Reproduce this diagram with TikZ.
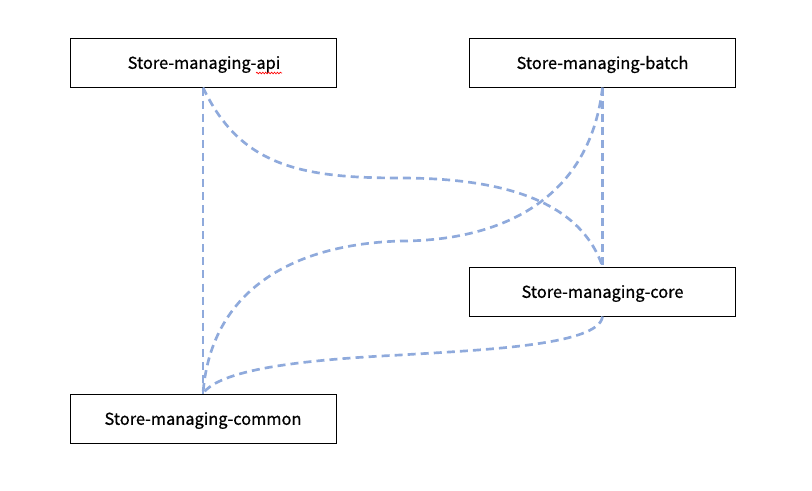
\documentclass[tikz,border=0pt]{standalone}
\usepackage{fontspec}
\setmainfont{Noto Sans CJK KR}
\newfontfamily\boxfont{Noto Sans CJK KR}[FakeBold=0.8]
\usetikzlibrary{decorations.pathmorphing}
\definecolor{conn}{HTML}{8FAADC}
\begin{document}
\begin{tikzpicture}[x=0.75pt,y=-0.75pt,
  box/.style={draw=black,line width=0.75pt,minimum width=266*0.75pt,minimum height=49*0.75pt,inner sep=0pt},
  lbl/.style={inner sep=0pt,font=\boxfont\fontsize{12.3}{13}\selectfont},
  link/.style={draw=conn,line width=2pt,dash pattern=on 6pt off 3.8pt}]
\useasboundingbox (0,0) rectangle (812,490);
\node[box] (api) at (203,62.5) {};
\node[box] (batch) at (602.5,62.5) {};
\node[box] (core) at (602.5,291.5) {};
\node[box] (common) at (203,418.5) {};
\node[lbl] (tapi) at (204,64.5) {Store-managing-api};
\node[lbl] (tbatch) at (602.5,64.5) {Store-managing-batch};
\node[lbl] (tcore) at (602.5,293.5) {Store-managing-core};
\node[lbl] (tcommon) at (203,420.5) {Store-managing-common};
\coordinate (m1) at (400,178);
\coordinate (m2) at (400,241);
\coordinate (m3) at (400,355);
\draw[link] (api.south) -- (common.north);
\draw[link] (batch.south) -- (core.north);
\draw[link] (api.south) .. controls +(37,78) and +(-100,0) .. (m1) .. controls +(100,0) and +(-23,-67) .. (core.north);
\draw[link] (batch.south) .. controls +(-13,113) and +(100,0) .. (m2) .. controls +(-120,4) and +(7,-94) .. (common.north);
\draw[link] (core.south) .. controls +(-3,29) and +(80,-5) .. (m3) .. controls +(-100,5) and +(17,-24) .. (common.north);
\draw[red,line width=0.5pt,decorate,decoration={snake,amplitude=0.6pt,segment length=2.2pt}] (256,73) -- (282,73);
\end{tikzpicture}
\end{document}
